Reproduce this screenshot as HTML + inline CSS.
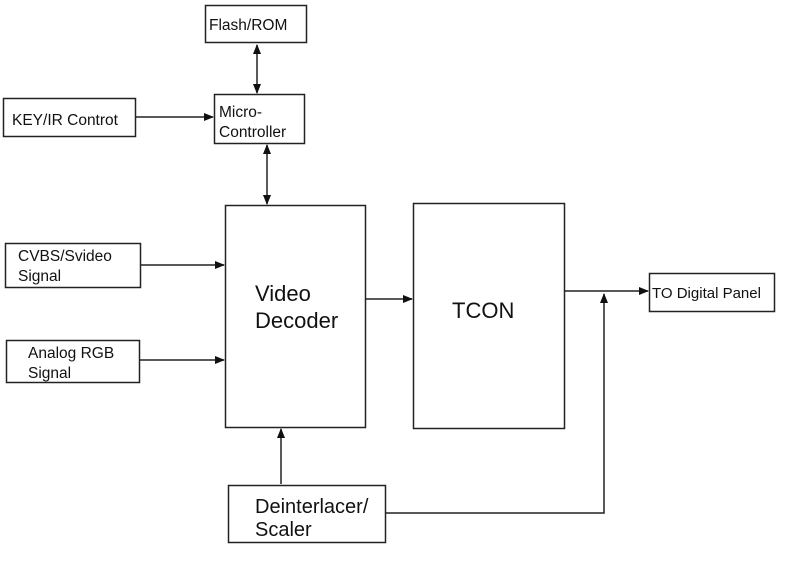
<!DOCTYPE html>
<html><head><style>body{margin:0;background:#fff}</style></head><body>
<svg width="800" height="571" xmlns="http://www.w3.org/2000/svg" font-family="Liberation Sans, sans-serif" fill="#111">
<defs><marker id="a" markerWidth="10" markerHeight="8" refX="9" refY="4" orient="auto-start-reverse" markerUnits="userSpaceOnUse"><path d="M0,0L10,4L0,8z" fill="#111"/></marker></defs>
<g fill="none" stroke="#222" stroke-width="1.5">
<rect x="205.5" y="5.5" width="101" height="37"/>
<rect x="3.5" y="98.5" width="132" height="38"/>
<rect x="214.5" y="94.5" width="90" height="49"/>
<rect x="225.5" y="205.5" width="140" height="222"/>
<rect x="5.5" y="243.5" width="135" height="44"/>
<rect x="6.5" y="340.5" width="133" height="42"/>
<rect x="228.5" y="485.5" width="157" height="57"/>
<rect x="413.5" y="203.5" width="151" height="225"/>
<rect x="649.5" y="273.5" width="125" height="38"/>
<line x1="257" y1="45" x2="257" y2="93" marker-start="url(#a)" marker-end="url(#a)"/>
<line x1="267" y1="145" x2="267" y2="204" marker-start="url(#a)" marker-end="url(#a)"/>
<line x1="136" y1="117" x2="213" y2="117" marker-end="url(#a)"/>
<line x1="141" y1="265" x2="224" y2="265" marker-end="url(#a)"/>
<line x1="140" y1="360" x2="224" y2="360" marker-end="url(#a)"/>
<line x1="281" y1="484" x2="281" y2="429" marker-end="url(#a)"/>
<line x1="366" y1="299" x2="412" y2="299" marker-end="url(#a)"/>
<line x1="565" y1="291" x2="648" y2="291" marker-end="url(#a)"/>
<polyline points="386,513 604,513 604,294" marker-end="url(#a)"/>
</g>
<g font-size="15.5">
<text x="209" y="30">Flash/ROM</text>
<text x="12" y="125">KEY/IR Controt</text>
<text x="219" y="117">Micro-</text>
<text x="219" y="137">Controller</text>
<text x="18" y="261">CVBS/Svideo</text>
<text x="18" y="281">Signal</text>
<text x="28" y="358">Analog RGB</text>
<text x="28" y="378">Signal</text>
<text x="652" y="298" font-size="15">TO Digital Panel</text>
</g>
<g font-size="22">
<text x="255" y="301">Video</text>
<text x="255" y="328">Decoder</text>
<text x="452" y="318">TCON</text>
</g>
<g font-size="20">
<text x="255" y="513">Deinterlacer/</text>
<text x="255" y="536">Scaler</text>
</g>
</svg>
</body></html>
